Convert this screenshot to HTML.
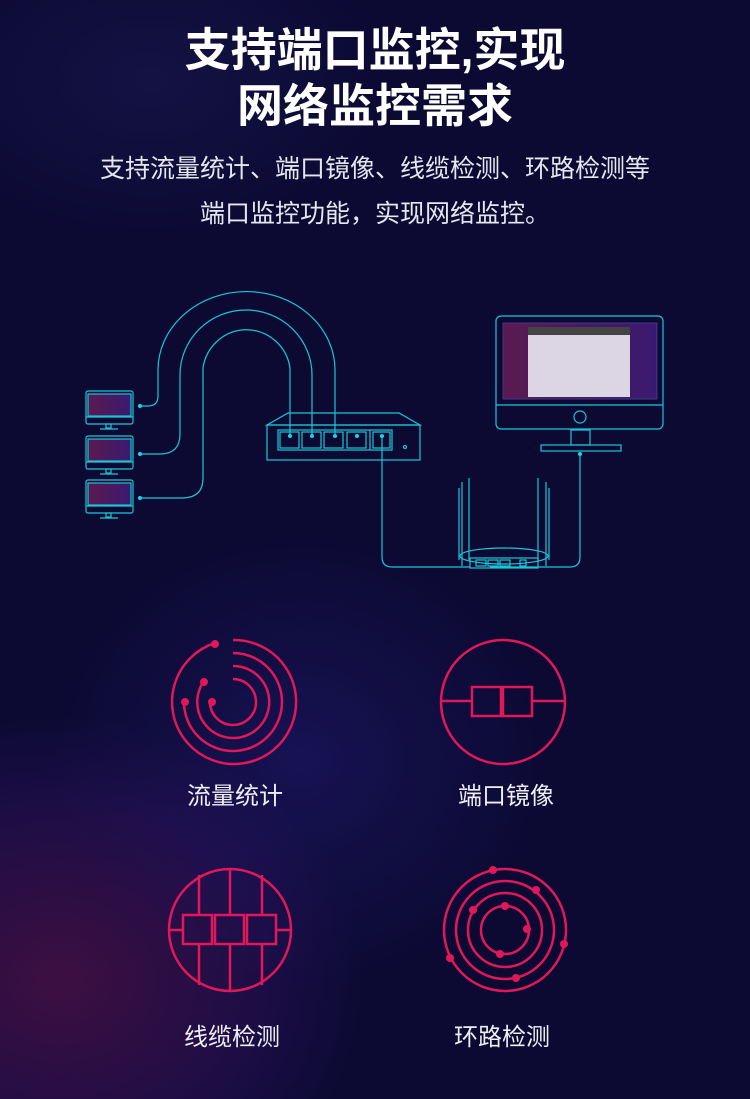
<!DOCTYPE html>
<html><head><meta charset="utf-8"><style>
body{margin:0;width:750px;height:1099px;overflow:hidden;background:#0c0a33;font-family:"Liberation Sans","Noto Sans CJK SC",sans-serif}
.bg{position:absolute;inset:0;background:radial-gradient(ellipse 380px 330px at 60px 980px,rgba(110,20,80,.5),rgba(60,20,110,.3) 55%,transparent 80%),radial-gradient(ellipse 330px 300px at 300px 760px,rgba(40,30,130,.4),transparent 75%),radial-gradient(ellipse 300px 200px at 150px 80px,rgba(30,30,90,.4),transparent 80%)}
.t{position:absolute;left:0;width:750px;text-align:center;color:#fff}
</style></head><body>
<div class="bg"></div>
<div class="t" style="top:22px;font-size:46px;font-weight:bold;line-height:56px">支持端口监控,实现<br>网络监控需求</div>
<div class="t" style="top:147px;font-size:25px;line-height:45px;color:#e6e6ee">支持流量统计、端口镜像、线缆检测、环路检测等<br>端口监控功能，实现网络监控。</div>
<svg width="750" height="1099" style="position:absolute;left:0;top:0" fill="none">
<defs><linearGradient id="sc" x1="0" x2="1"><stop offset="0" stop-color="#5a1a50"/><stop offset="1" stop-color="#3a1a70"/></linearGradient></defs>
<g stroke="#19c6d6" stroke-width="1.2">
<g><rect x="86" y="391" width="47" height="33" rx="2"/><rect x="88" y="394" width="43" height="22" fill="url(#sc)"/><line x1="86" y1="417" x2="133" y2="417"/><rect x="106" y="424" width="5" height="4"/><line x1="100" y1="429" x2="118" y2="429"/></g>
<g><rect x="86" y="436" width="47" height="33" rx="2"/><rect x="88" y="439" width="43" height="22" fill="url(#sc)"/><line x1="86" y1="462" x2="133" y2="462"/><rect x="106" y="469" width="5" height="4"/><line x1="100" y1="474" x2="118" y2="474"/></g>
<g><rect x="86" y="480" width="47" height="33" rx="2"/><rect x="88" y="483" width="43" height="22" fill="url(#sc)"/><line x1="86" y1="506" x2="133" y2="506"/><rect x="106" y="513" width="5" height="4"/><line x1="100" y1="518" x2="118" y2="518"/></g>
<path d="M140 406 H148 Q158 406 158 396 V370 A88 78 0 0 1 335 370 V436"/>
<path d="M140 454 H160 Q180 454 180 434 V375 A66 65 0 0 1 312 375 V436"/>
<path d="M140 498 H182 Q203 498 203 478 V368 A44 45 0 0 1 290 368 V436"/>
<path d="M382 436 V557 Q382 567 392 567 H470"/>
<path d="M580 454 V557 Q580 567 570 567 H490"/>
<path d="M267 425 L288 413 H399 L420 425 Z"/><rect x="267" y="425" width="153" height="35"/>
<rect x="278" y="430" width="114" height="20"/><line x1="370" y1="430" x2="370" y2="450"/>
<rect x="280" y="432" width="19" height="16"/><rect x="302" y="432" width="19" height="16"/><rect x="324" y="432" width="19" height="16"/><rect x="347" y="432" width="19" height="16"/><rect x="373" y="432" width="17" height="16"/>
<circle cx="405" cy="447" r="1.5"/>
<rect x="496" y="316" width="167" height="113" rx="5"/><line x1="496" y1="405" x2="663" y2="405"/>
<circle cx="580" cy="417" r="6"/><rect x="571" y="430" width="19" height="15"/><rect x="541" y="445" width="80" height="6"/>
<path d="M459 488 V560 M462 482 V566 M469 478 V560 M538 478 V560 M546 482 V566 M549 488 V560"/>
<ellipse cx="504" cy="556" rx="44" ry="8"/><rect x="470" y="558" width="68" height="10"/>
<rect x="476" y="560" width="10" height="6"/><rect x="488" y="560" width="10" height="6"/><rect x="500" y="560" width="10" height="6"/><rect x="520" y="560" width="6" height="6"/>
</g>
<rect x="503" y="323" width="154" height="76" fill="url(#sc)" stroke="#3a3a8a"/>
<rect x="528" y="327" width="102" height="70" fill="#dcd6e4"/><rect x="528" y="327" width="102" height="8" fill="#444"/>
<g fill="#19d6e6"><circle cx="140" cy="406" r="2"/><circle cx="140" cy="454" r="2"/><circle cx="140" cy="498" r="2"/><circle cx="290" cy="436" r="2"/><circle cx="312" cy="436" r="2"/><circle cx="335" cy="436" r="2"/><circle cx="357" cy="436" r="2"/><circle cx="382" cy="436" r="2"/><circle cx="580" cy="454" r="2"/></g>
<g stroke="#e0185a" stroke-width="2.5">
<path d="M233 640 A62 62 0 1 1 215 643"/>
<path d="M233 653 A49 49 0 1 1 184 702"/>
<path d="M233 666 A36 36 0 1 1 204 681"/>
<path d="M233 679 A23 23 0 1 1 210 702"/>
<circle cx="503" cy="702" r="62"/><path d="M441 701 H472 M533 701 H565"/><rect x="472" y="687" width="29" height="29"/><rect x="503" y="687" width="29" height="29"/>
<circle cx="230" cy="930" r="61"/><path d="M169 930 H183 M277 930 H291 M199 875 V915 M230 869 V915 M262 875 V915 M199 944 V985 M230 944 V991 M262 944 V985"/>
<rect x="183" y="915" width="29" height="29"/><rect x="215" y="915" width="29" height="29"/><rect x="247" y="915" width="29" height="29"/>
<circle cx="505" cy="930" r="61"/><circle cx="505" cy="930" r="49"/><circle cx="505" cy="930" r="37"/><circle cx="505" cy="930" r="24"/>
</g>
<g fill="#e0185a"><circle cx="215" cy="644" r="4"/><circle cx="185" cy="702" r="4"/><circle cx="204" cy="682" r="4"/><circle cx="212" cy="702" r="4"/>
<circle cx="493" cy="870" r="4"/><circle cx="536" cy="890" r="4"/><circle cx="564" cy="944" r="4"/><circle cx="450" cy="958" r="4"/><circle cx="516" cy="978" r="4"/><circle cx="473" cy="910" r="4"/><circle cx="505" cy="906" r="4"/><circle cx="527" cy="929" r="4"/><circle cx="500" cy="954" r="4"/></g>
<g fill="#eeeef4" font-size="24" text-anchor="middle" font-family="Liberation Sans,Noto Sans CJK SC,sans-serif">
<text x="235" y="804">流量统计</text><text x="506" y="804">端口镜像</text><text x="232" y="1045">线缆检测</text><text x="502" y="1045">环路检测</text></g>
</svg>
</body></html>
